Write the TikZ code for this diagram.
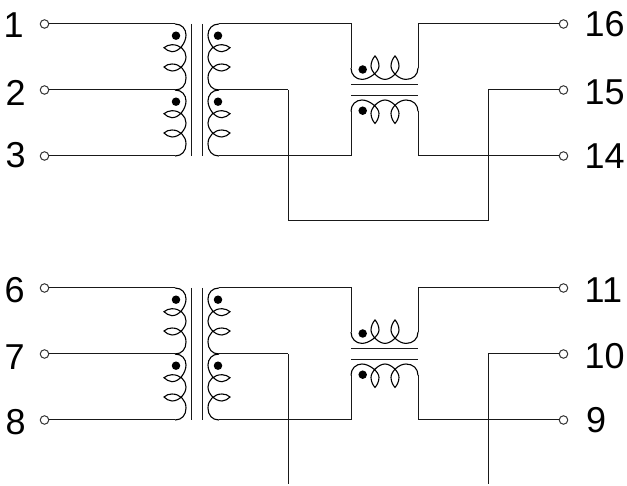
\documentclass[tikz,border=0pt]{standalone}
\usepackage{fontspec}
\setmainfont{Liberation Sans}
\tikzset{
  wire/.style={line width=1pt,black!90},
  coilline/.style={line width=1.1pt,black},
  term/.style={circle,draw=black!80,fill=white,line width=1pt,inner sep=0pt,minimum size=8.5pt},
  dotmark/.style={circle,fill=black,inner sep=0pt,minimum size=8.5pt},
  pinlabel/.style={anchor=base west,inner sep=0pt,font=\fontsize{36}{40}\selectfont}
}
% one vertical winding of height 66, starting at the current scope's y=0
\newcommand{\wind}{%
  \draw[coilline] (175,0) .. controls (182,0) and (186,5) .. (186,11)
    .. controls (186,18) and (180,27.7) .. (172,27.7)
    .. controls (169,27.7) and (166,25.5) .. (164,23.7)
    .. controls (166,22) and (169,20.7) .. (172,20.7)
    .. controls (180,20.7) and (186,26) .. (186,33)
    .. controls (186,39) and (180,47) .. (172,47)
    .. controls (169,47) and (166,45) .. (164,43)
    .. controls (166,41) and (169,40) .. (172,40)
    .. controls (180,40) and (186,46) .. (186,54)
    .. controls (186,61) and (182,66) .. (175,66);
  \node[dotmark] at (176,11.7) {};
}
% horizontal winding, bulging down
\newcommand{\hwind}{%
  \draw[coilline] (351,68) .. controls (351,75) and (356,79.4) .. (362,79.4)
    .. controls (369,79.4) and (379,72) .. (379,66)
    .. controls (379,62) and (377,58) .. (375,56)
    .. controls (373,58) and (371,62) .. (371,66)
    .. controls (371,72) and (379,79.4) .. (385,79.4)
    .. controls (391,79.4) and (399,72) .. (399,66)
    .. controls (399,62) and (397,58) .. (395,56)
    .. controls (393,58) and (391,62) .. (391,66)
    .. controls (391,72) and (399,79.4) .. (406,79.4)
    .. controls (413,79.4) and (418,75) .. (418,68);
}
% #1 prefix, #2 y offset
\newcommand{\xfblock}[2]{%
  \begin{scope}[shift={(0,#2)}]
    \coordinate (#1la) at (175,24);
    \coordinate (#1lb) at (175,90);
    \coordinate (#1lc) at (175,156);
    \coordinate (#1ra) at (219,24);
    \coordinate (#1rb) at (219,90);
    \coordinate (#1rc) at (219,156);
    \coordinate (#1tl) at (351,68);
    \coordinate (#1bl) at (351,111.4);
    \coordinate (#1tr) at (418,68);
    \coordinate (#1br) at (418,111.4);
    \coordinate (#1cm) at (288,90);
    \coordinate (#1cn) at (488,90);
    \coordinate (#1c1a) at (191.5,24);
    \coordinate (#1c1b) at (191.5,156);
    \coordinate (#1c2a) at (202.5,24);
    \coordinate (#1c2b) at (202.5,156);
    \coordinate (#1c3a) at (351,85);
    \coordinate (#1c3b) at (418,85);
    \coordinate (#1c4a) at (351,96);
    \coordinate (#1c4b) at (418,96);
    \node[term] (#1a) at (44.5,24) {};
    \node[term] (#1b) at (44.5,90) {};
    \node[term] (#1c) at (44.5,156) {};
    \node[term] (#1p) at (563.5,24) {};
    \node[term] (#1q) at (563.5,90) {};
    \node[term] (#1r) at (563.5,156) {};
    \draw[wire] (#1a) -- (#1la);
    \draw[wire] (#1b) -- (#1lb);
    \draw[wire] (#1c) -- (#1lc);
    \draw[wire] (#1ra) -| (#1tl);
    \draw[wire] (#1rc) -| (#1bl);
    \draw[wire] (#1p) -| (#1tr);
    \draw[wire] (#1r) -| (#1br);
    \draw[wire] (#1rb) -- (#1cm);
    \draw[wire] (#1q) -- (#1cn);
    \begin{scope}[shift={(0,24)}]\wind\end{scope}
    \begin{scope}[shift={(0,90)}]\wind\end{scope}
    \begin{scope}[shift={(394,24)},xscale=-1]\wind\end{scope}
    \begin{scope}[shift={(394,90)},xscale=-1]\wind\end{scope}
    \draw[wire] (#1c1a) -- (#1c1b);
    \draw[wire] (#1c2a) -- (#1c2b);
    \draw[wire] (#1c3a) -- (#1c3b);
    \draw[wire] (#1c4a) -- (#1c4b);
    \hwind
    \node[dotmark] at (362.7,69.5) {};
    \begin{scope}[shift={(0,179.4)},yscale=-1]
      \hwind
      \node[dotmark] at (362.7,68.7) {};
    \end{scope}
  \end{scope}
}
\begin{document}
\begin{tikzpicture}[x=1pt,y=-1pt]
\useasboundingbox (0,0) rectangle (627,486);
\xfblock{u}{0}
\xfblock{v}{264}
% top link
\coordinate (ulow) at (288,221);
\coordinate (ulowr) at (488,221);
\draw[wire] (ucm) -- (ulow) -- (ulowr) -- (ucn);
% bottom free leads
\coordinate (vendl) at (288,484);
\coordinate (vendr) at (488,484);
\draw[wire] (vcm) -- (vendl);
\draw[wire] (vcn) -- (vendr);
% labels
\node[pinlabel] (l1) at (3.5,37.5) {1};
\node[pinlabel] (l2) at (5.5,105.5) {2};
\node[pinlabel] (l3) at (5.5,168) {3};
\node[pinlabel] (l6) at (4.5,302.5) {6};
\node[pinlabel] (l7) at (4.5,369.5) {7};
\node[pinlabel] (l8) at (5.5,434.5) {8};
\node[pinlabel] (l16) at (584.5,37) {16};
\node[pinlabel] (l15) at (584.5,105) {15};
\node[pinlabel] (l14) at (584.5,168.5) {14};
\node[pinlabel] (l11) at (584.5,302.5) {11};
\node[pinlabel] (l10) at (584.5,369) {10};
\node[pinlabel] (l9) at (586,433) {9};
\end{tikzpicture}
\end{document}
